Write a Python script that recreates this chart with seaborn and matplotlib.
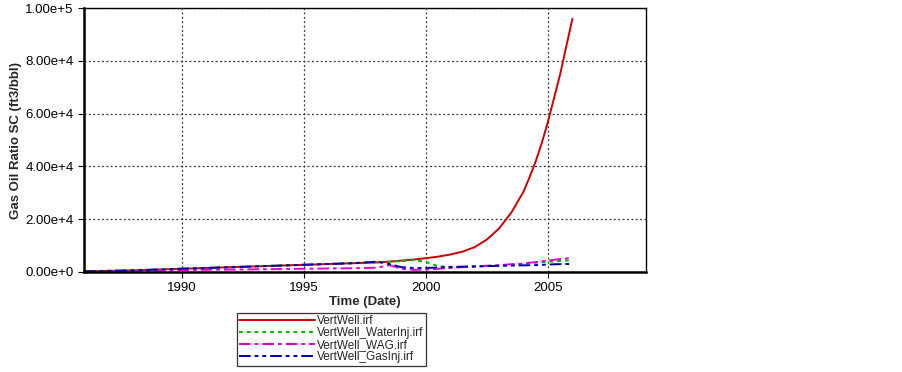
import seaborn as sns
import matplotlib.pyplot as plt
import pandas as pd
from matplotlib.ticker import FuncFormatter, FixedLocator

years = [1986, 1987, 1988, 1989, 1990, 1991, 1992, 1993, 1994, 1995, 1996, 1997, 1998,
         1998.5, 1999, 1999.5, 2000, 2000.5, 2001, 2001.5, 2002, 2002.5, 2003, 2003.5,
         2004, 2004.25, 2004.5, 2004.75, 2005, 2005.25, 2005.5, 2005.75, 2006]

vert = [200, 400, 600, 900, 1200, 1500, 1800, 2100, 2400, 2700, 3000, 3300, 3600,
        3900, 4300, 4700, 5200, 5800, 6600, 7700, 9400, 12300, 16500, 22500,
        30500, 36000, 42000, 49000, 57000, 66000, 75000, 85500, 96000]
water = [200, 400, 600, 900, 1200, 1500, 1800, 2100, 2400, 2700, 3000, 3300, 3600,
         3900, 4100, 4500, 3800, 2200, 1800, 1900, 2100, 2300, 2500, 2800,
         3100, 3300, 3500, 3700, 3900, 4000, 4200, 4300, 4400]
wag = [100, 200, 300, 500, 700, 800, 900, 1000, 1100, 1200, 1300, 1400, 1600,
       2600, 1200, 800, 900, 1200, 1500, 1800, 2000, 2300, 2600, 2900,
       3200, 3500, 3700, 4000, 4300, 4600, 4900, 5100, 5200]
gas = [200, 400, 600, 900, 1200, 1500, 1800, 2100, 2400, 2700, 3000, 3300, 3900,
       3000, 1800, 1500, 1500, 1700, 1900, 2000, 2100, 2200, 2300, 2400,
       2500, 2550, 2600, 2700, 2800, 2900, 2950, 3000, 3000]

names = ["VertWell.irf", "VertWell_WaterInj.irf", "VertWell_WAG.irf", "VertWell_GasInj.irf"]

df = pd.DataFrame({"Time": years * 4,
                   "GOR": vert + water + wag + gas,
                   "case": [n for n in names for _ in years]})

sns.set_style("white")
plt.rcParams['font.family'] = ['Liberation Sans', 'DejaVu Sans']

fig = plt.figure(figsize=(9.03, 3.72), dpi=100)
ax = fig.add_axes([0.093, 0.269, 0.622, 0.709])

palette = {names[0]: "#CC0000", names[1]: "#00BB00", names[2]: "#E000E0", names[3]: "#0000B0"}
dashes = {names[0]: "", names[1]: (2, 2), names[2]: (6, 2, 2, 2), names[3]: (6, 2, 2, 2, 2, 2)}
sns.lineplot(data=df, x="Time", y="GOR", hue="case", style="case", hue_order=names,
             style_order=names, palette=palette, dashes=dashes, linewidth=1.4, ax=ax,
             legend=True)

ax.set_xlim(1986, 2009)
ax.set_ylim(0, 100000)
ax.xaxis.set_major_locator(FixedLocator([1990, 1995, 2000, 2005]))
ax.xaxis.set_major_formatter(FuncFormatter(lambda v, p: f"{int(v)}"))
ax.yaxis.set_major_locator(FixedLocator([0, 20000, 40000, 60000, 80000, 100000]))

def sci(v, p):
    if v == 0:
        return "0.00e+0"
    s = f"{v:.2e}"
    m, e = s.split("e")
    return f"{m}e+{int(e)}"

ax.yaxis.set_major_formatter(FuncFormatter(sci))
ax.grid(True, which="major", color="#333333", linestyle=(0, (1.5, 2)), linewidth=0.9)
for sp in ax.spines.values():
    sp.set_color("black")
    sp.set_linewidth(1.0)
ax.spines["left"].set_linewidth(1.8)
ax.spines["bottom"].set_linewidth(1.8)
ax.tick_params(axis="both", labelsize=9.5, colors="black", length=4, direction="out",
               bottom=True, left=True)
ax.set_xlabel("Time (Date)", fontsize=9.5, fontweight="bold", labelpad=1)
ax.set_ylabel("Gas Oil Ratio SC (ft3/bbl)", fontsize=9.5, fontweight="bold", labelpad=2)

ax.legend_.remove()
handles, labels = ax.get_legend_handles_labels()
leg = fig.legend(handles, labels, loc="upper left", bbox_to_anchor=(237 / 903, 1 - 313 / 372),
                 borderaxespad=0, frameon=True, fontsize=8.5, handlelength=6.4,
                 handletextpad=0.2, labelspacing=0.0, borderpad=0.2, fancybox=False,
                 edgecolor="black")
leg.get_frame().set_linewidth(0.9)

fig.savefig("out.png", dpi=100)
